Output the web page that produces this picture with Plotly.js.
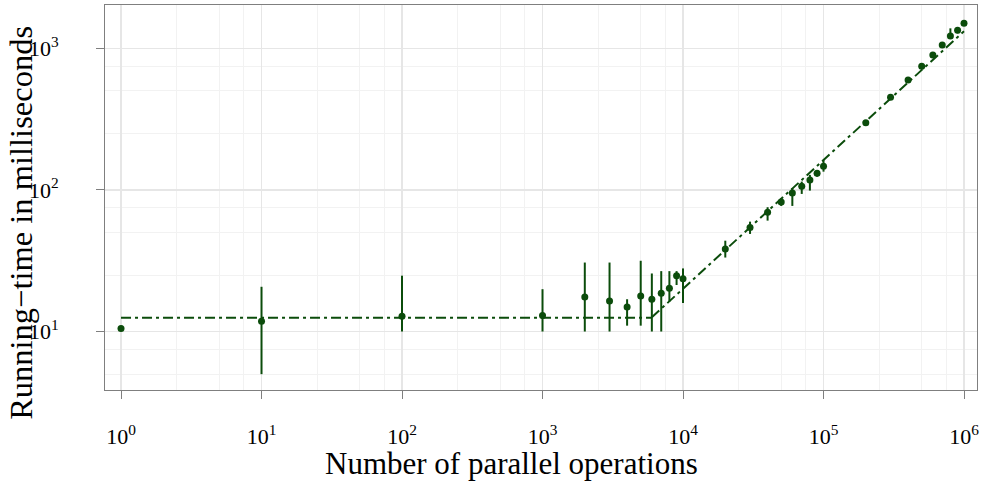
<!DOCTYPE html>
<html>
<head>
<meta charset="utf-8">
<script src="https://cdn.plot.ly/plotly-3.0.1.min.js"></script>
<style>html,body{margin:0;padding:0;background:#fff;}#chart{width:984px;height:485px;}</style>
</head>
<body>
<div id="chart"></div>
<script>
// Measured data (number of parallel operations vs running time in ms)
const ops = [1, 10, 100, 1000, 2000, 3000, 4000, 5000, 6000, 7000, 8000, 9000, 10000,
  20000, 30000, 40000, 50000, 60000, 70000, 80000, 90000, 100000,
  200000, 300000, 400000, 500000, 600000, 700000, 800000, 900000, 1000000];
const timeMs = [10.5, 11.8, 12.8, 13.0, 17.5, 16.4, 14.9, 17.8, 16.9, 18.6, 20.2, 24.8, 23.6,
  38.3, 54.2, 69.5, 82.2, 95.2, 106.2, 117.7, 131.3, 147,
  298, 451, 597, 747, 897, 1055, 1221, 1340, 1503];
const timeHi = [10.5, 20.7, 24.8, 19.9, 30.7, 30.7, 16.9, 31.6, 25.7, 26.7, 26.7, 26.7, 27.9,
  43.8, 59.7, 75.5, 87.3, 102.8, 114.5, 127.7, 138, 163,
  310, 465, 615, 770, 925, 1090, 1384, 1406, 1530];
const timeLo = [10.5, 5.0, 10.0, 10.0, 10.0, 10.0, 11.0, 11.0, 10.0, 10.0, 16.2, 21.3, 15.9,
  33.3, 48.9, 60.7, 77.1, 77.1, 93.7, 98.9, 124, 134.6,
  290, 440, 585, 730, 880, 1030, 1183, 1276, 1480];

// Fitted model segments
const flatFitX = [1, 6000];
const flatFitY = [12.5, 12.5];
const slopeFitX = [6000, 1000000];
const slopeFitY = [12.6, 1320];

// Tick labels
const xTickVals = [1, 10, 100, 1000, 10000, 100000, 1000000];
const xTickText = ['10<sup>0</sup>', '10<sup>1</sup>', '10<sup>2</sup>', '10<sup>3</sup>', '10<sup>4</sup>', '10<sup>5</sup>', '10<sup>6</sup>'];
const yTickVals = [10, 100, 1000];
const yTickText = ['10<sup>1</sup>', '10<sup>2</sup>', '10<sup>3</sup>'];
const xMinorVals = [2.5, 5, 7.5, 25, 50, 75, 250, 500, 750, 2500, 5000, 7500, 25000, 50000, 75000, 250000, 500000, 750000];
const yMinorVals = [5, 7.5, 25, 50, 75, 250, 500, 750, 2500];

const green = '#0b4c0b';
const serif = 'Liberation Serif, Times New Roman, serif';

const errPlus = timeMs.map((v, i) => timeHi[i] - v);
const errMinus = timeMs.map((v, i) => v - timeLo[i]);

const traces = [
  {
    x: flatFitX, y: flatFitY, type: 'scatter', mode: 'lines',
    line: {color: green, width: 2, dash: '10px,4px,3px,4px'}, hoverinfo: 'skip'
  },
  {
    x: slopeFitX, y: slopeFitY, type: 'scatter', mode: 'lines',
    line: {color: green, width: 2, dash: '10px,4px,3px,4px'}, hoverinfo: 'skip'
  },
  {
    x: ops, y: timeMs, type: 'scatter', mode: 'markers',
    marker: {color: green, size: 7},
    error_y: {type: 'data', symmetric: false, array: errPlus, arrayminus: errMinus,
      color: green, thickness: 2, width: 0}
  }
];

const axisCommon = {
  type: 'log', ticks: 'outside', ticklen: 8, tickwidth: 1, tickcolor: '#7f7f7f',
  showline: true, linecolor: '#7f7f7f', linewidth: 1, mirror: true,
  showgrid: true, gridcolor: '#e6e6e6', gridwidth: 1.5, zeroline: false,
  tickfont: {family: serif, size: 22, color: '#000'}
};

const layout = {
  width: 984, height: 485,
  margin: {l: 105, r: 7, t: 5, b: 95},
  paper_bgcolor: '#fff', plot_bgcolor: '#fff',
  showlegend: false,
  xaxis: Object.assign({}, axisCommon, {
    range: [-0.114, 6.0925], tickmode: 'array', tickvals: xTickVals, ticktext: xTickText,
    ticklabelstandoff: 19,
    minor: {tickmode: 'array', tickvals: xMinorVals, showgrid: true, gridcolor: '#f2f2f2', gridwidth: 1, ticks: ''}
  }),
  yaxis: Object.assign({}, axisCommon, {
    range: [0.587, 3.306], tickmode: 'array', tickvals: yTickVals, ticktext: yTickText,
    ticklabelstandoff: 33,
    minor: {tickmode: 'array', tickvals: yMinorVals, showgrid: true, gridcolor: '#f2f2f2', gridwidth: 1, ticks: ''}
  }),
  annotations: [
    {text: 'Number of parallel operations', xref: 'paper', yref: 'paper',
      x: 0.4656, y: -0.192, xanchor: 'center', yanchor: 'middle', showarrow: false,
      font: {family: serif, size: 31, color: '#000'}},
    {text: 'Running\u2212time in milliseconds', xref: 'paper', yref: 'paper',
      x: -0.0965, y: 0.4338, xanchor: 'center', yanchor: 'middle', showarrow: false, textangle: -90,
      font: {family: serif, size: 32.5, color: '#000'}}
  ]
};

Plotly.newPlot('chart', traces, layout, {displayModeBar: false, staticPlot: true});
</script>
</body>
</html>
